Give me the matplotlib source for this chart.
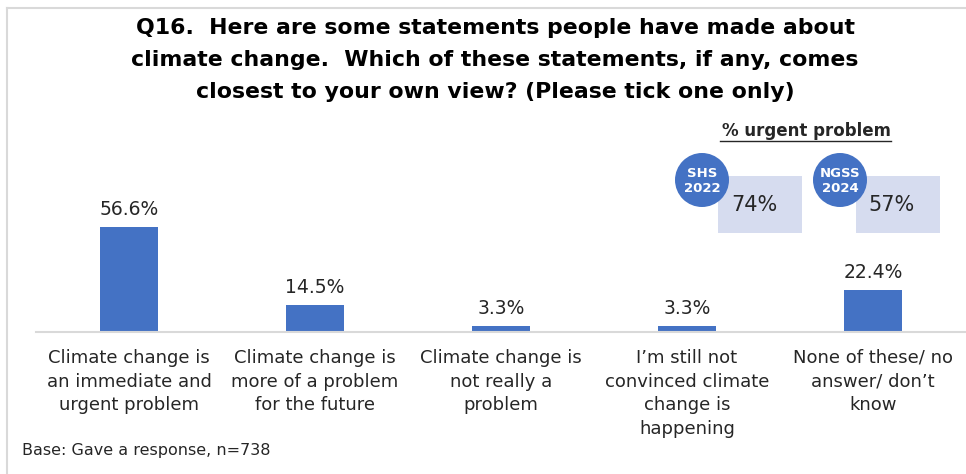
import matplotlib
matplotlib.use("Agg")
import matplotlib.pyplot as plt
from matplotlib.patches import Circle, Rectangle
from matplotlib.lines import Line2D

categories = [
    "Climate change is\nan immediate and\nurgent problem",
    "Climate change is\nmore of a problem\nfor the future",
    "Climate change is\nnot really a\nproblem",
    "I\u2019m still not\nconvinced climate\nchange is\nhappening",
    "None of these/ no\nanswer/ don\u2019t\nknow",
]
values = [56.6, 14.5, 3.3, 3.3, 22.4]
value_labels = ["56.6%", "14.5%", "3.3%", "3.3%", "22.4%"]

compare_names = ["SHS\n2022", "NGSS\n2024"]
compare_values = ["74%", "57%"]

title = ("Q16.  Here are some statements people have made about\n"
         "climate change.  Which of these statements, if any, comes\n"
         "closest to your own view? (Please tick one only)")
base_note = "Base: Gave a response, n=738"

BLUE = "#4472C4"
GRID = "#d9d9d9"
TEXT = "#262626"
plt.rcParams["font.family"] = ["DejaVu Sans"]

W, H = 966, 474
fig = plt.figure(figsize=(W / 100, H / 100), dpi=100)

# bar axes
ax = fig.add_axes([36 / W, 1 - 332 / H, 930 / W, (332 - 130) / H])
x = list(range(len(values)))
ax.bar(x, values, width=0.31, color=BLUE, zorder=2)
ax.set_xlim(-0.5, len(values) - 0.5)
ax.set_ylim(0, 108.9)
for s in ["top", "right", "left"]:
    ax.spines[s].set_visible(False)
ax.spines["bottom"].set_color(GRID)
ax.spines["bottom"].set_linewidth(1.5)
ax.set_yticks([])
ax.set_xticks(x)
ax.set_xticklabels(categories, fontsize=13, color=TEXT, linespacing=1.42)
ax.tick_params(axis="x", length=0, pad=12)
for xi, v, lab in zip(x, values, value_labels):
    ax.annotate(lab, (xi, v), xytext=(0, 6), textcoords="offset points",
                ha="center", va="bottom", fontsize=13.5, color=TEXT)

# overlay in pixel coordinates for title, frame and callouts
ov = fig.add_axes([0, 0, 1, 1], zorder=5)
ov.set_xlim(0, W)
ov.set_ylim(H, 0)
ov.axis("off")
ov.patch.set_alpha(0)

ov.add_line(Line2D([7, 7], [8, H], color=GRID, lw=1.5))
ov.add_line(Line2D([7, W], [8, 8], color=GRID, lw=1.5))

ov.text(495, 60, title, ha="center", va="center", fontsize=15.8,
        fontweight="bold", color="black", linespacing=1.78)

ov.text(806, 131, "% urgent problem", ha="center", va="center",
        fontsize=12, fontweight="bold", color=TEXT)
ov.add_line(Line2D([720, 891], [141, 141], color=TEXT, lw=1))

for cx, name, val in zip([702, 840], compare_names, compare_values):
    ov.add_patch(Rectangle((cx + 16, 176), 84, 57, facecolor="#d6dcef",
                           edgecolor="none"))
    ov.add_patch(Circle((cx, 180), 27, facecolor=BLUE, edgecolor="none"))
    ov.text(cx, 181, name, ha="center", va="center", fontsize=9.5,
            fontweight="bold", color="white", linespacing=1.25)
    ov.text(cx + 52, 205, val, ha="center", va="center", fontsize=15,
            color=TEXT)

ov.text(22, 450, base_note, ha="left", va="center", fontsize=11.5,
        color=TEXT)

fig.savefig("out.png", dpi=100)
